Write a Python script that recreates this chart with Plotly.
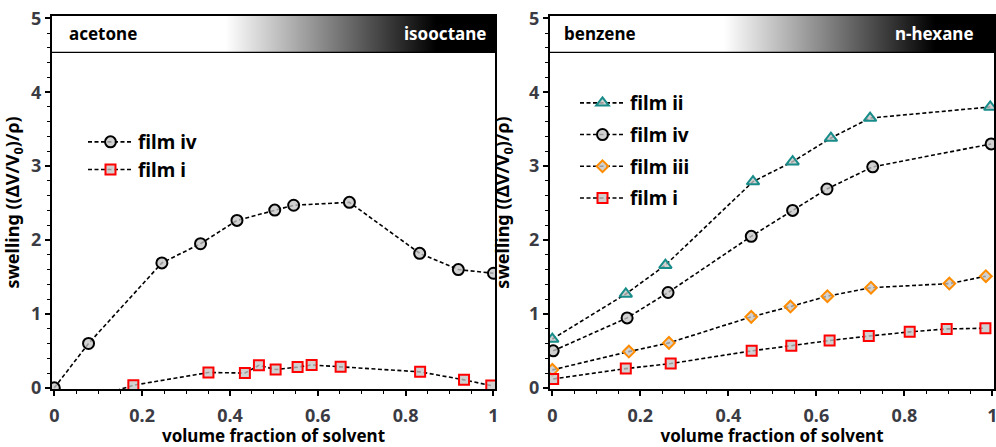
import plotly.graph_objects as go

# ---------------- data ----------------
# left panel: acetone -> isooctane
left_iv_x = [0.0, 0.078, 0.245, 0.333, 0.416, 0.502, 0.545, 0.672, 0.832, 0.92, 1.0]
left_iv_y = [0.0, 0.60, 1.69, 1.95, 2.265, 2.405, 2.47, 2.51, 1.82, 1.60, 1.55]
left_i_x = [0.0, 0.18, 0.351, 0.434, 0.466, 0.504, 0.554, 0.586, 0.652, 0.833, 0.933, 0.995]
left_i_y = [-0.30, 0.035, 0.207, 0.20, 0.305, 0.247, 0.28, 0.31, 0.284, 0.216, 0.108, 0.03]

# right panel: benzene -> n-hexane
right_ii_x = [0.0, 0.167, 0.257, 0.456, 0.546, 0.633, 0.722, 0.995]
right_ii_y = [0.66, 1.27, 1.66, 2.79, 3.06, 3.38, 3.65, 3.80]
right_iv_x = [0.002, 0.17, 0.263, 0.452, 0.546, 0.624, 0.728, 0.997]
right_iv_y = [0.50, 0.946, 1.29, 2.05, 2.40, 2.69, 2.99, 3.30]
right_iii_x = [0.0, 0.174, 0.265, 0.452, 0.541, 0.625, 0.724, 0.902, 0.985]
right_iii_y = [0.243, 0.49, 0.608, 0.96, 1.10, 1.24, 1.355, 1.41, 1.51]
right_i_x = [0.002, 0.167, 0.269, 0.453, 0.543, 0.63, 0.719, 0.812, 0.896, 0.984]
right_i_y = [0.12, 0.26, 0.328, 0.50, 0.57, 0.64, 0.70, 0.757, 0.797, 0.806]

left_solvents = ["acetone", "isooctane"]
right_solvents = ["benzene", "n-hexane"]
x_ticks = [0, 0.2, 0.4, 0.6, 0.8, 1]
x_ticklabels = ["0", "0.2", "0.4", "0.6", "0.8", "1"]
y_ticks = [0, 1, 2, 3, 4, 5]

# ---------------- styles ----------------
FILL = "rgba(196,196,196,0.78)"
LINE = dict(color="black", width=1.6, dash="4px,2.5px")
FONT = "Noto Sans"
TICKCOL = "#3b3b44"

styles = {
    "film ii": dict(symbol="triangle-up", size=11, line=dict(color="#178c89", width=2)),
    "film iv": dict(symbol="circle", size=11, line=dict(color="black", width=2)),
    "film iii": dict(symbol="diamond", size=9, line=dict(color="#ff8c00", width=2)),
    "film i": dict(symbol="square", size=10, line=dict(color="#ff0000", width=2)),
}

fig = go.Figure()

BAND_LO, BAND_HI = 4.54, 5.1

def band(xa, ya):
    fig.add_trace(go.Scatter(
        x=[-0.02, 1.02, 1.02, -0.02, -0.02], y=[BAND_LO, BAND_LO, BAND_HI, BAND_HI, BAND_LO],
        xaxis=xa, yaxis=ya, mode="lines", fill="toself",
        fillgradient=dict(type="horizontal", start=0, stop=1,
                          colorscale=[[0, "white"], [0.39, "white"], [0.87, "black"], [1, "black"]]),
        line=dict(color="black", width=1.3), hoverinfo="skip", showlegend=False))

band("x", "y")
band("x2", "y2")

def series(name, xs, ys, xa, ya, legend, group):
    st = styles[name]
    fig.add_trace(go.Scatter(
        x=xs, y=ys, xaxis=xa, yaxis=ya, name=name, mode="lines+markers",
        line=LINE, legend=legend, legendgroup=group,
        marker=dict(symbol=st["symbol"], size=st["size"], color=FILL, line=st["line"])))

series("film iv", left_iv_x, left_iv_y, "x", "y", "legend", "a1")
series("film i", left_i_x, left_i_y, "x", "y", "legend", "a2")
series("film ii", right_ii_x, right_ii_y, "x2", "y2", "legend2", "b1")
series("film iv", right_iv_x, right_iv_y, "x2", "y2", "legend2", "b2")
series("film iii", right_iii_x, right_iii_y, "x2", "y2", "legend2", "b3")
series("film i", right_i_x, right_i_y, "x2", "y2", "legend2", "b4")

def xaxis(domain, anchor):
    return dict(domain=domain, anchor=anchor, range=[-0.0052, 1.0035], automargin=False,
                tickvals=x_ticks, ticktext=x_ticklabels, ticks="outside", ticklen=5, tickwidth=1.5,
                tickcolor="black", ticklabelstandoff=4, ticklabeloverflow="allow",
                minor=dict(dtick=0.05, tick0=0, ticks="outside", ticklen=3, tickwidth=1, tickcolor="black"),
                showline=True, linecolor="black", linewidth=2, mirror=True, showgrid=False, zeroline=False,
                tickfont=dict(family=FONT, size=18, color=TICKCOL, weight="bold"),
                title=dict(text="volume fraction of solvent", standoff=12,
                           font=dict(family=FONT, size=17, color="black", weight="bold")))

def yaxis(anchor):
    return dict(anchor=anchor, domain=[0, 1], range=[-0.016, 5.031], automargin=False,
                tickvals=y_ticks, ticks="outside", ticklen=5, tickwidth=1.5, tickcolor="black",
                ticklabeloverflow="allow",
                minor=dict(dtick=0.2, tick0=0, ticks="outside", ticklen=3, tickwidth=1, tickcolor="black"),
                showline=True, linecolor="black", linewidth=2, mirror=True, showgrid=False, zeroline=False,
                tickfont=dict(family=FONT, size=18, color=TICKCOL, weight="bold"),
                title=dict(text="swelling ((ΔV/V<sub>0</sub>)/ρ)",
                           font=dict(family=FONT, size=18, color="black", weight="bold")))

W, H = 996, 447
ML, MR, MT, MB = 52, 2, 16, 58
PW = W - ML - MR
PH = H - MT - MB
d1 = [0, (495 - ML) / PW]
d2 = [(550 - ML) / PW, 1]

annots = []
def lab(text, x, xanchor, color, xref, yref):
    annots.append(dict(text=text, x=x, y=4.79, xref=xref, yref=yref, xanchor=xanchor, yanchor="middle",
                       showarrow=False, font=dict(family=FONT, size=17, color=color, weight="bold")))
lab(left_solvents[0], 0.028, "left", "black", "x", "y")
lab(left_solvents[1], 0.987, "right", "white", "x", "y")
lab(right_solvents[0], 0.022, "left", "black", "x2", "y2")
lab(right_solvents[1], 0.962, "right", "white", "x2", "y2")

legfont = dict(family=FONT, size=19, color="black", weight="bold")
fig.update_layout(
    width=W, height=H, margin=dict(l=ML, r=MR, t=MT, b=MB, autoexpand=False),
    paper_bgcolor="white", plot_bgcolor="white",
    xaxis=xaxis(d1, "y"), yaxis=yaxis("x"),
    xaxis2=xaxis(d2, "y2"), yaxis2=yaxis("x2"),
    legend=dict(x=(83 - ML) / PW, y=(H - MB - 123) / PH, xanchor="left", yanchor="top",
                bgcolor="rgba(0,0,0,0)", font=legfont, traceorder="grouped", tracegroupgap=0,
                itemwidth=45),
    legend2=dict(x=(575 - ML) / PW, y=(H - MB - 84) / PH, xanchor="left", yanchor="top",
                 bgcolor="rgba(0,0,0,0)", font=legfont, traceorder="grouped", tracegroupgap=4,
                 itemwidth=45),
    annotations=annots,
    font=dict(family=FONT),
)

fig.write_html("out.html")
